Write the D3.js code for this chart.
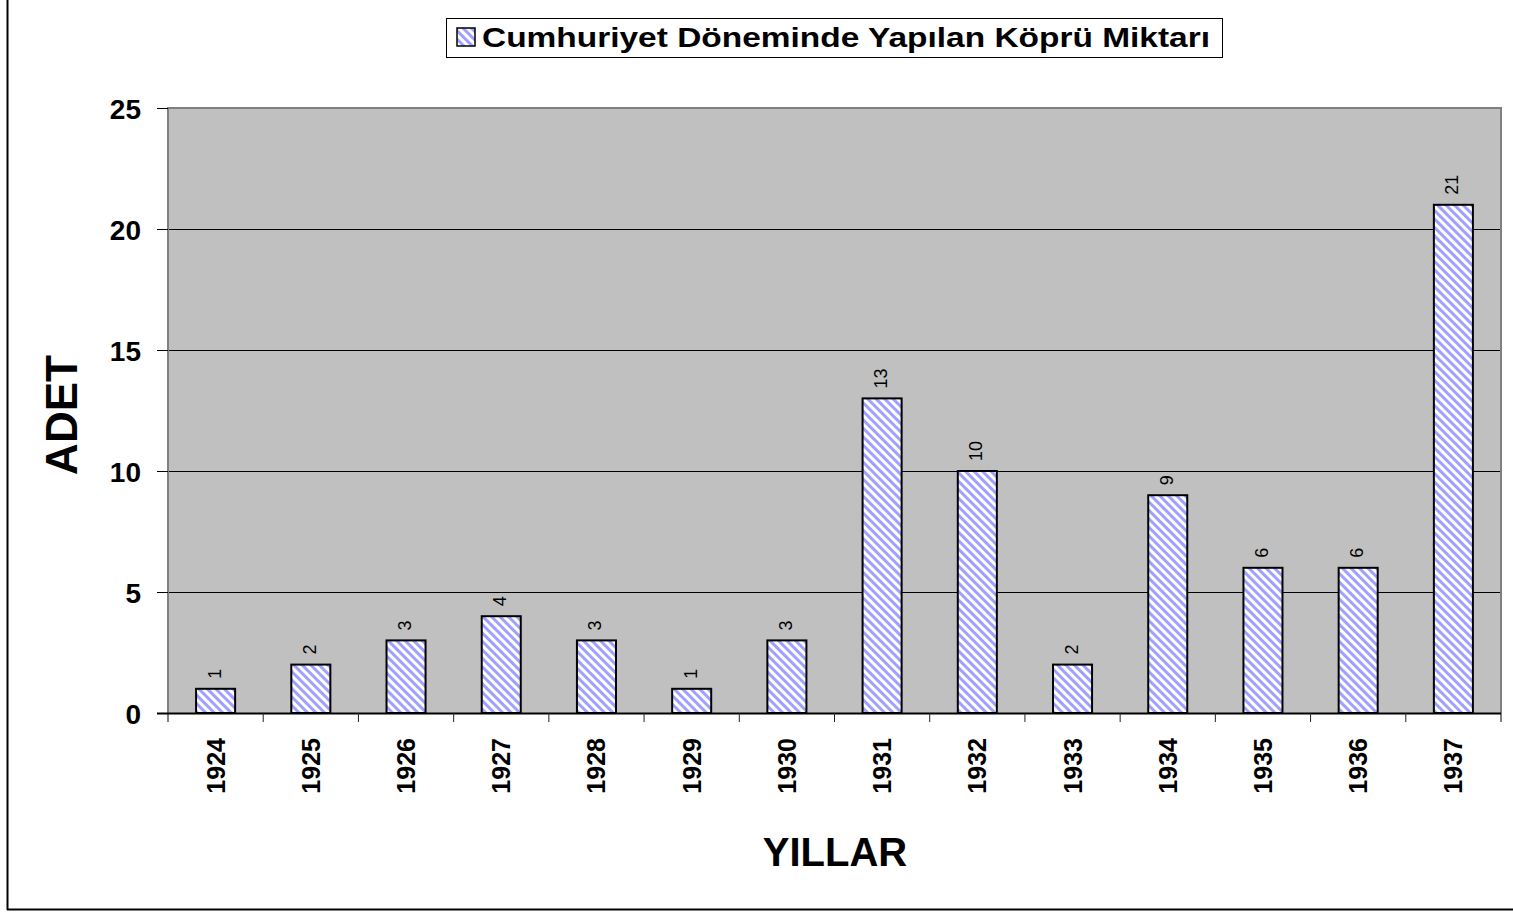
<!DOCTYPE html>
<html lang="tr">
<head>
<meta charset="UTF-8">
<title>Cumhuriyet Döneminde Yapılan Köprü Miktarı</title>
<style>
    body { margin: 0; background: #fff; font-family: Arial, "Liberation Sans", sans-serif; }
    svg { display: block; }
    .ylab { font-size: 28px; font-weight: bold; }
    .xlab { font-size: 25px; font-weight: bold; }
    .val { font-size: 18px; }
    .legend-text { font-size: 28px; font-weight: bold; }
</style>
</head>
<body>
<script src="https://d3js.org/d3.v7.min.js"></script>
<script>
var years = ["1924","1925","1926","1927","1928","1929","1930","1931","1932","1933","1934","1935","1936","1937"];
var counts = [1, 2, 3, 4, 3, 1, 3, 13, 10, 2, 9, 6, 6, 21];
var yTicks = [0, 5, 10, 15, 20, 25];
var seriesName = "Cumhuriyet Döneminde Yapılan Köprü Miktarı";

var W = 1513, H = 912;
var plot = {left: 168, right: 1501, top: 108, bottom: 713};

var svg = d3.select("body").append("svg").attr("width", W).attr("height", H);

// diagonal stripes, top-left to bottom-right
var pat = svg.append("defs").append("pattern")
    .attr("id", "stripes")
    .attr("patternUnits", "userSpaceOnUse")
    .attr("width", 6).attr("height", 6)
    .attr("patternTransform", "rotate(-45)");
pat.append("rect").attr("width", 6).attr("height", 6).attr("fill", "#ffffff");
pat.append("rect").attr("width", 3).attr("height", 6).attr("fill", "#a0a0ff");

// outer chart frame, only left and bottom are in view
svg.append("line").attr("x1", 7.5).attr("y1", 0).attr("x2", 7.5).attr("y2", 910)
    .attr("stroke", "#000").attr("stroke-width", 2);
svg.append("line").attr("x1", 7).attr("y1", 909.5).attr("x2", W).attr("y2", 909.5)
    .attr("stroke", "#000").attr("stroke-width", 2);

var x = d3.scaleBand().domain(years).range([plot.left, plot.right]).padding(0);
var y = d3.scaleLinear().domain([0, 25]).range([plot.bottom, plot.top]);
var barW = x.bandwidth() * 0.41;

svg.append("rect")
    .attr("x", plot.left).attr("y", plot.top)
    .attr("width", plot.right - plot.left).attr("height", plot.bottom - plot.top)
    .attr("fill", "#c0c0c0");

// gridlines
svg.append("g").selectAll("line")
    .data(yTicks.filter(function(d) { return d > 0 && d < 25; }))
    .enter().append("line")
    .attr("x1", plot.left).attr("x2", plot.right)
    .attr("y1", function(d) { return Math.round(y(d)) + 0.5; })
    .attr("y2", function(d) { return Math.round(y(d)) + 0.5; })
    .attr("stroke", "#000").attr("stroke-width", 1);

// plot border
svg.append("path")
    .attr("d", "M" + plot.left + "," + (plot.bottom + 9) + "V" + plot.top + "H" + plot.right + "V" + (plot.bottom + 9))
    .attr("fill", "none").attr("stroke", "#808080").attr("stroke-width", 2);

// bars
svg.append("g").selectAll("rect")
    .data(counts)
    .enter().append("rect")
    .attr("x", function(d, i) { return x(years[i]) + (x.bandwidth() - barW) / 2; })
    .attr("y", function(d) { return y(d); })
    .attr("width", barW)
    .attr("height", function(d) { return y(0) - y(d); })
    .attr("fill", "url(#stripes)")
    .attr("stroke", "#000").attr("stroke-width", 2);

// value labels
svg.append("g").selectAll("text")
    .data(counts)
    .enter().append("text")
    .attr("class", "val")
    .attr("transform", function(d, i) {
        return "translate(" + (x(years[i]) + x.bandwidth() / 2 + 5) + "," + (y(d) - 10) + ") rotate(-90)";
    })
    .text(function(d) { return d; });

// x axis
svg.append("line")
    .attr("x1", plot.left - 11).attr("x2", plot.right)
    .attr("y1", plot.bottom + 0.5).attr("y2", plot.bottom + 0.5)
    .attr("stroke", "#000").attr("stroke-width", 2);

svg.append("g").selectAll("line")
    .data(years.slice(1).map(function(d) { return x(d); }))
    .enter().append("line")
    .attr("x1", function(d) { return d; }).attr("x2", function(d) { return d; })
    .attr("y1", plot.bottom).attr("y2", plot.bottom + 9)
    .attr("stroke", "#222").attr("stroke-width", 1);

// y ticks
svg.append("g").selectAll("line")
    .data(yTicks)
    .enter().append("line")
    .attr("x1", plot.left - 11).attr("x2", plot.left)
    .attr("y1", function(d) { return Math.round(y(d)) + 0.5; })
    .attr("y2", function(d) { return Math.round(y(d)) + 0.5; })
    .attr("stroke", "#000");
svg.append("g").selectAll("text")
    .data(yTicks)
    .enter().append("text")
    .attr("class", "ylab")
    .attr("x", 141)
    .attr("y", function(d) { return y(d) + 11; })
    .attr("text-anchor", "end")
    .text(function(d) { return d; });

// x tick labels
svg.append("g").selectAll("text")
    .data(years)
    .enter().append("text")
    .attr("class", "xlab")
    .attr("transform", function(d) {
        return "translate(" + (x(d) + x.bandwidth() / 2 + 9) + ",738) rotate(-90)";
    })
    .attr("text-anchor", "end")
    .text(function(d) { return d; });

// axis titles
svg.append("text")
    .attr("x", 835).attr("y", 866)
    .attr("text-anchor", "middle")
    .style("font-size", "40px").style("font-weight", "bold")
    .text("YILLAR");
svg.append("text")
    .attr("transform", "translate(77,415) rotate(-90)")
    .attr("text-anchor", "middle")
    .style("font-size", "44px").style("font-weight", "bold")
    .text("ADET");

// legend
var lg = svg.append("g");
lg.append("rect")
    .attr("x", 446.5).attr("y", 18.5).attr("width", 776).attr("height", 39)
    .attr("fill", "#fff").attr("stroke", "#000").attr("stroke-width", 1);
lg.append("rect")
    .attr("x", 457).attr("y", 28).attr("width", 18).attr("height", 18)
    .attr("fill", "url(#stripes)").attr("stroke", "#000").attr("stroke-width", 1.5);
lg.append("text").attr("class", "legend-text")
    .attr("x", 482).attr("y", 47)
    .attr("textLength", 728).attr("lengthAdjust", "spacingAndGlyphs")
    .text(seriesName);
</script>
</body>
</html>
